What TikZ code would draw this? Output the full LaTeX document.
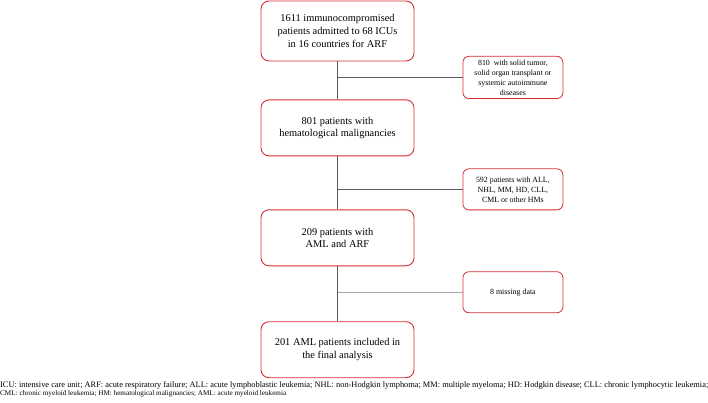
\documentclass[tikz,border=0pt]{standalone}
\usepackage{fontspec}
\setmainfont{Liberation Serif}
\usetikzlibrary{positioning}
\definecolor{boxred}{RGB}{214,45,50}
\definecolor{linegray}{RGB}{90,90,90}

\begin{document}
\begin{tikzpicture}[x=1pt, y=1pt, node distance=38pt]
\tikzset{
  mainbox/.style = {rectangle, rounded corners=8pt, draw=boxred, line width=0.9pt, align=center, minimum width=153pt, minimum height=56pt, font=\fontsize{10.4}{12.6}\selectfont},
  sidebox/.style = {rectangle, rounded corners=6pt, draw=boxred, line width=0.8pt, align=center, minimum width=100pt, minimum height=41pt, font=\fontsize{7.9}{10}\selectfont},
  flow/.style = {draw=linegray, line width=0.7pt},
  note/.style = {anchor=west, inner sep=0pt, font=\fontsize{7}{8}\selectfont}
}
\useasboundingbox (0,0) rectangle (708,-403);

% Main column
\node[mainbox, minimum height=60pt] (icu) at (337.5,-31) {1611 immunocompromised\\patients admitted to 68 ICUs\\in 16 countries for ARF};
\node[mainbox, below=38pt of icu] (hem) {801 patients with\\hematological malignancies};
\node[mainbox, below=53pt of hem] (aml) {209 patients with\\AML and ARF};
\node[mainbox, below=55pt of aml] (final) {201 AML patients included in\\the final analysis};

% Branch points
\coordinate[below=16pt of icu] (b1);
\coordinate[below=33pt of hem] (b2);
\coordinate[below=26pt of aml] (b3);

% Exclusion boxes
\node[sidebox, right=125pt of b1] (solid) {810\ \ with solid tumor,\\solid organ transplant or\\systemic autoimmune\\diseases};
\node[sidebox, right=125pt of b2] (other) {592 patients with ALL,\\NHL, MM, HD, CLL,\\CML or other HMs};
\node[sidebox, right=125pt of b3] (miss) {8 missing data};

% Edges
\draw[flow] (icu) -- (hem);
\draw[flow] (hem) -- (aml);
\draw[flow] (aml) -- (final);
\draw[flow] (b1) -- (solid);
\draw[flow] (b2) -- (other);
\draw[flow, draw=gray!70] (b3) -- (miss);

% Footnote
\node[note] (abbr1) at (0,-385) {\resizebox{708pt}{!}{ICU: intensive care unit; ARF: acute respiratory failure; ALL: acute lymphoblastic leukemia; NHL: non-Hodgkin lymphoma; MM: multiple myeloma; HD: Hodgkin disease; CLL: chronic lymphocytic leukemia;}};
\node[note] (abbr2) at (0,-394) {\resizebox{286pt}{!}{CML: chronic myeloid leukemia; HM: hematological malignancies; AML: acute myeloid leukemia}};

\end{tikzpicture}
\end{document}
